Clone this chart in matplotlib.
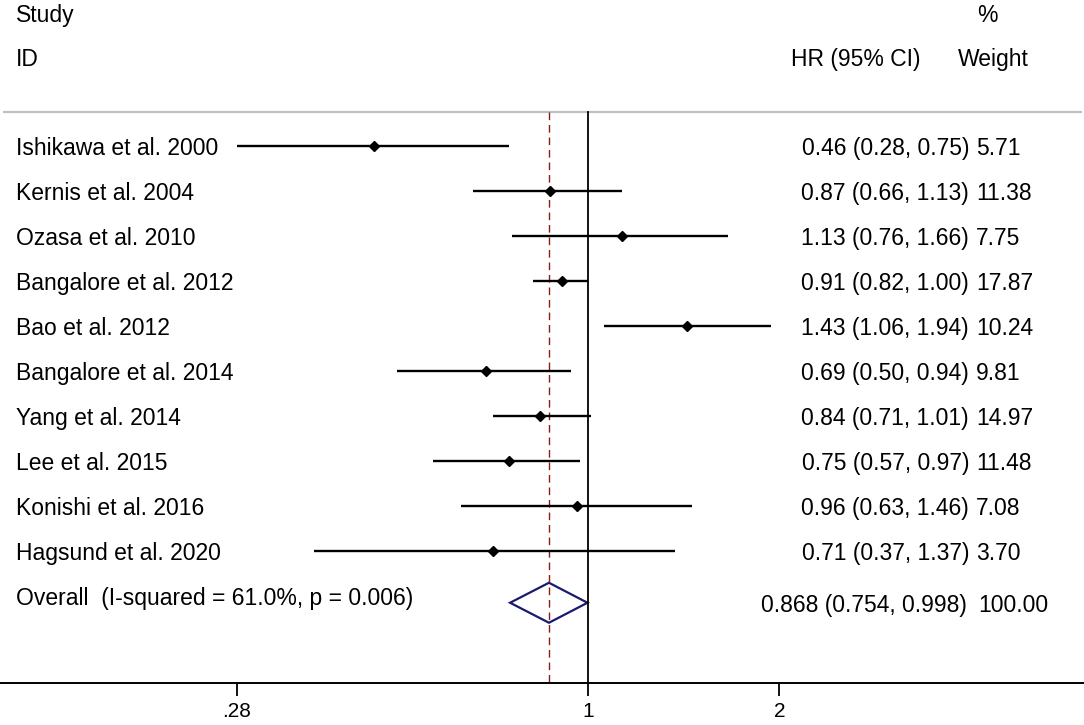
import matplotlib
matplotlib.use('Agg')
import matplotlib.pyplot as plt
import matplotlib.transforms as mtransforms
from matplotlib.patches import Polygon

studies = ['Ishikawa et al. 2000', 'Kernis et al. 2004', 'Ozasa et al. 2010',
           'Bangalore et al. 2012', 'Bao et al. 2012', 'Bangalore et al. 2014',
           'Yang et al. 2014', 'Lee et al. 2015', 'Konishi et al. 2016',
           'Hagsund et al. 2020']
hr = [0.46, 0.87, 1.13, 0.91, 1.43, 0.69, 0.84, 0.75, 0.96, 0.71]
ci_lo = [0.28, 0.66, 0.76, 0.82, 1.06, 0.50, 0.71, 0.57, 0.63, 0.37]
ci_hi = [0.75, 1.13, 1.66, 1.00, 1.94, 0.94, 1.01, 0.97, 1.46, 1.37]
weights = [5.71, 11.38, 7.75, 17.87, 10.24, 9.81, 14.97, 11.48, 7.08, 3.70]

overall_label = 'Overall  (I-squared = 61.0%, p = 0.006)'
overall_hr = 0.868
overall_lo = 0.754
overall_hi = 0.998
overall_weight = 100.00

tick_vals = [0.28, 1, 2]
tick_labels = ['.28', '1', '2']

W, H = 1084, 725
FS = 16.5
plt.rcParams['font.family'] = ['Liberation Sans', 'DejaVu Sans']

fig = plt.figure(figsize=(W / 100, H / 100), dpi=100)
bottom_px = 683
ax = fig.add_axes([0, (H - bottom_px) / H, 1, bottom_px / H])
ax.set_xscale('log')
ax.set_xlim(0.1188, 6.03)

# rows are 45 px apart, first row centred at 146 px from the top
row0, step = 146, 45
ax.set_ylim((bottom_px - row0) / step, -row0 / step)

tr = mtransforms.blended_transform_factory(ax.transAxes, ax.transData)


def px(x):
    return x / W


sep = (112 - row0) / step
ybot = ax.get_ylim()[0]
va = 'center_baseline'

# header
ax.text(px(16), -2.95, 'Study', transform=tr, fontsize=FS, va=va)
ax.text(px(16), -1.97, 'ID', transform=tr, fontsize=FS, va=va)
ax.text(px(791), -1.97, 'HR (95% CI)', transform=tr, fontsize=FS, va=va)
ax.text(px(977), -2.95, '%', transform=tr, fontsize=FS, va=va)
ax.text(px(958), -1.97, 'Weight', transform=tr, fontsize=FS, va=va)
ax.plot([px(3), px(1082)], [sep, sep], transform=tr, color='#c0c0c0', lw=1.6,
        solid_capstyle='butt')

# reference lines
ax.plot([1, 1], [sep, ybot], color='black', lw=1.3, clip_on=False)
ax.plot([overall_hr, overall_hr], [sep, ybot], color='#8b1a1a', lw=1.0,
        dashes=(5.5, 3.5))

# studies
for i, name in enumerate(studies):
    ax.plot([ci_lo[i], ci_hi[i]], [i, i], color='black', lw=1.7,
            solid_capstyle='butt')
    ax.plot(hr[i], i, marker='D', color='black', markersize=4.8)
    ax.text(px(16), i, name, transform=tr, fontsize=FS, va=va)
    ax.text(px(969), i, f'{hr[i]:.2f} ({ci_lo[i]:.2f}, {ci_hi[i]:.2f})',
            transform=tr, fontsize=FS, va=va, ha='right')
    ax.text(px(976), i, f'{weights[i]:.2f}', transform=tr, fontsize=FS, va=va)

# overall
yo = len(studies) + 0.15
dh = 20 / step
diamond = Polygon([(overall_lo, yo), (overall_hr, yo - dh), (overall_hi, yo),
                   (overall_hr, yo + dh)], closed=True, fill=False,
                  edgecolor='#1a1a6e', lw=1.6, joinstyle='miter')
ax.add_patch(diamond)
ax.text(px(16), len(studies), overall_label, transform=tr, fontsize=FS, va=va)
ax.text(px(967), yo, f'{overall_hr:.3f} ({overall_lo:.3f}, {overall_hi:.3f})',
        transform=tr, fontsize=FS, va=va, ha='right')
ax.text(px(978), yo, f'{overall_weight:.2f}', transform=tr, fontsize=FS, va=va)

# axis
for s in ['top', 'left', 'right']:
    ax.spines[s].set_visible(False)
ax.spines['bottom'].set_linewidth(1.4)
ax.set_yticks([])
ax.set_xticks(tick_vals)
ax.set_xticklabels(tick_labels)
ax.minorticks_off()
ax.tick_params(axis='x', direction='out', length=9.4, width=1.3, pad=4,
               labelsize=15)
ax.set_facecolor('none')

fig.savefig('out.png', dpi=100)
